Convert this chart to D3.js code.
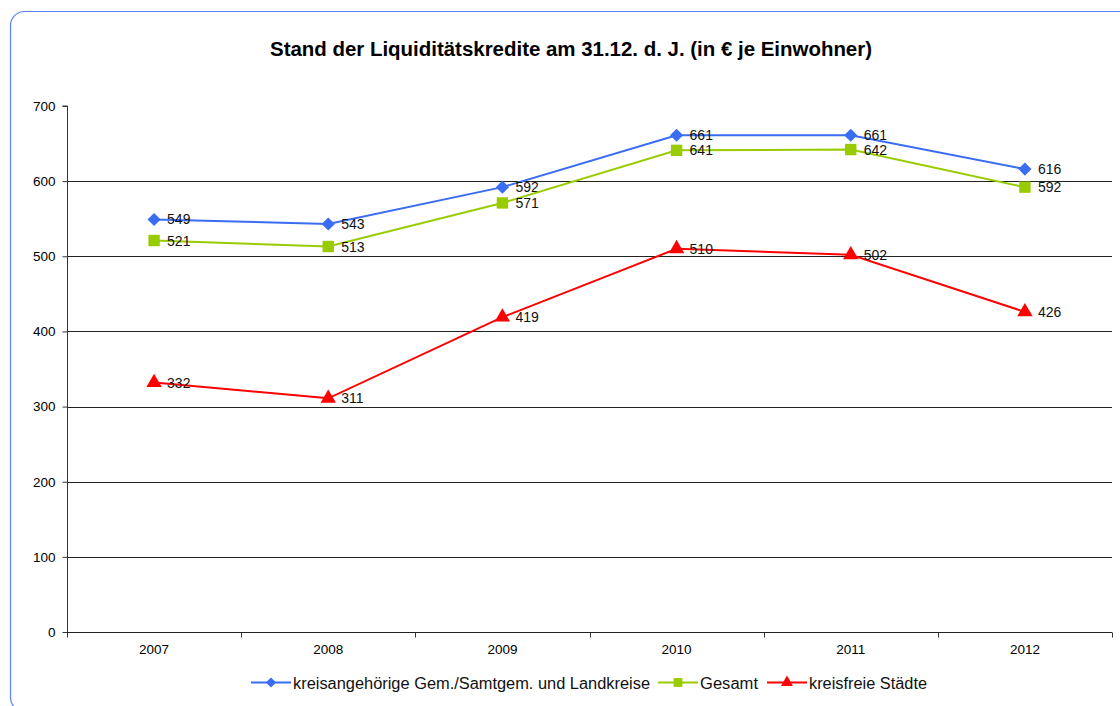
<!DOCTYPE html>
<html>
<head>
<meta charset="utf-8">
<script src="https://cdn.jsdelivr.net/npm/d3@7"></script>
<style>
  body { margin: 0; background: #fff; }
  text { font-family: "Liberation Sans", Arial, sans-serif; }
</style>
</head>
<body>
<script>
// Data
const years = ['2007', '2008', '2009', '2010', '2011', '2012'];
const kreisangehoerige = [549, 543, 592, 661, 661, 616];
const gesamt = [521, 513, 571, 641, 642, 592];
const kreisfreie = [332, 311, 419, 510, 502, 426];
const yTicks = [0, 100, 200, 300, 400, 500, 600, 700];

const series = [
    { name: 'kreisangehörige Gem./Samtgem. und Landkreise', values: kreisangehoerige, color: '#3a6cf4', symbol: d3.symbolDiamond2, size: 110 },
    { name: 'Gesamt', values: gesamt, color: '#99cc00', symbol: d3.symbolSquare2, size: 165 },
    { name: 'kreisfreie Städte', values: kreisfreie, color: '#ff0000', symbol: d3.symbolTriangle2, size: 170 }
];

const width = 1120;
const height = 706;
const margin = { top: 106, right: 8, bottom: 74, left: 67 };

const svg = d3.select('body')
    .append('svg')
    .attr('width', width)
    .attr('height', height);

// Chart border
svg.append('rect')
    .attr('x', 10.5)
    .attr('y', 11.5)
    .attr('width', 1125)
    .attr('height', 700)
    .attr('rx', 14)
    .attr('fill', 'none')
    .attr('stroke', '#5b82f5')
    .attr('stroke-width', 1.2);

// Title
svg.append('text')
    .attr('x', 270)
    .attr('y', 56)
    .attr('font-size', 20)
    .attr('font-weight', 'bold')
    .attr('textLength', 602)
    .attr('lengthAdjust', 'spacingAndGlyphs')
    .text('Stand der Liquiditätskredite am 31.12. d. J. (in € je Einwohner)');

const x = d3.scaleBand()
    .domain(years)
    .range([margin.left, width - margin.right]);

const y = d3.scaleLinear()
    .domain([0, 700])
    .range([height - margin.bottom, margin.top]);

// Gridlines
svg.append('g')
    .selectAll('line')
    .data(yTicks.filter(d => d > 0 && d < 700))
    .enter().append('line')
    .attr('x1', margin.left)
    .attr('x2', width - margin.right)
    .attr('y1', d => Math.round(y(d)) + 0.5)
    .attr('y2', d => Math.round(y(d)) + 0.5)
    .attr('stroke', '#222')
    .attr('stroke-width', 1);

// Y axis
const yAxis = svg.append('g')
    .attr('transform', `translate(${margin.left + 0.5},0)`)
    .call(d3.axisLeft(y).tickValues(yTicks).tickSize(5).tickPadding(7));
yAxis.selectAll('text').attr('font-size', 13.5).attr('font-family', '"Liberation Sans", Arial, sans-serif').attr('fill', '#000');
yAxis.selectAll('line, path').attr('stroke', '#333');
yAxis.select('.domain').attr('d', `M-5,${y(700)}H0V${y(0)}`);

// X axis
const xAxis = svg.append('g')
    .attr('transform', `translate(0,${Math.round(y(0)) + 0.5})`)
    .call(d3.axisBottom(x).tickSize(0).tickPadding(12));
xAxis.selectAll('text').attr('font-size', 13.5).attr('font-family', '"Liberation Sans", Arial, sans-serif').attr('fill', '#000');
xAxis.select('.domain').attr('stroke', '#222').attr('d', `M${margin.left},0H${width - margin.right}`);
xAxis.selectAll('.boundary')
    .data(years.map(d => x(d)).concat([x.range()[1]]))
    .enter().append('line')
    .attr('class', 'boundary')
    .attr('x1', d => Math.round(d) + 0.5)
    .attr('x2', d => Math.round(d) + 0.5)
    .attr('y1', 0)
    .attr('y2', 5)
    .attr('stroke', '#333');

const cx = d => x(d) + x.bandwidth() / 2;

const line = d3.line()
    .x((d, i) => cx(years[i]))
    .y(d => y(d));

// Series
series.forEach(s => {
    const g = svg.append('g');
    g.append('path')
        .datum(s.values)
        .attr('d', line)
        .attr('fill', 'none')
        .attr('stroke', s.color)
        .attr('stroke-width', 2);

    g.selectAll('.marker')
        .data(s.values)
        .enter().append('path')
        .attr('class', 'marker')
        .attr('transform', (d, i) => `translate(${cx(years[i])},${y(d)})`)
        .attr('d', d3.symbol().type(s.symbol).size(s.size))
        .attr('fill', s.color);

    g.selectAll('.label')
        .data(s.values)
        .enter().append('text')
        .attr('class', 'label')
        .attr('x', (d, i) => cx(years[i]) + 13)
        .attr('y', d => y(d) + 5)
        .attr('font-size', 14)
        .attr('fill', '#111')
        .text(d => d);
});

// Legend
const legendItems = [
    { x: 251, w: 357 },
    { x: 658, w: 58 },
    { x: 767, w: 118 }
];
series.forEach((s, i) => {
    const lg = svg.append('g').attr('transform', `translate(${legendItems[i].x},682.5)`);
    lg.append('line')
        .attr('x1', 0).attr('x2', 40)
        .attr('stroke', s.color)
        .attr('stroke-width', 2);
    lg.append('path')
        .attr('transform', 'translate(20,0)')
        .attr('d', d3.symbol().type(s.symbol).size(s.size * 0.6))
        .attr('fill', s.color);
    lg.append('text')
        .attr('x', 42)
        .attr('y', 6)
        .attr('font-size', 16)
        .attr('fill', '#111')
        .attr('textLength', legendItems[i].w)
        .attr('lengthAdjust', 'spacingAndGlyphs')
        .text(s.name);
});
</script>
</body>
</html>
